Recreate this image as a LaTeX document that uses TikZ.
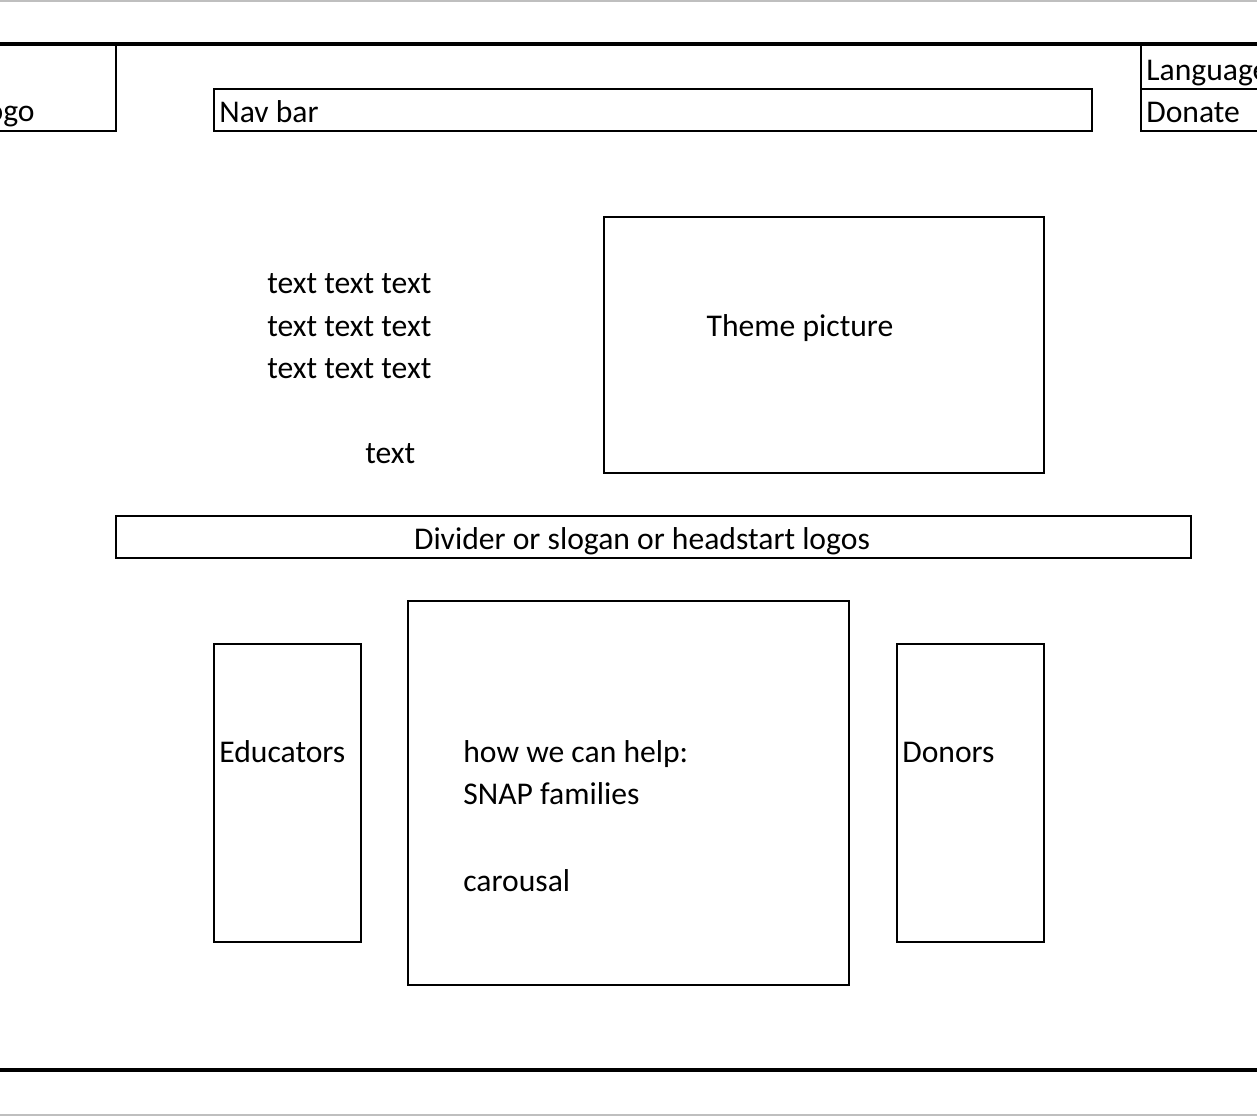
\documentclass[tikz,border=0pt]{standalone}
\usepackage{fontspec}
\setmainfont{Carlito}
\usetikzlibrary{positioning}

\begin{document}
\begin{tikzpicture}
[
x=0.02cm, y=-0.02cm,
font=\fontsize{18}{20}\selectfont,
box/.style={rectangle, draw=black, line width=1.2pt, inner sep=0pt, anchor=north west},
lbl/.style={inner sep=0pt, anchor=base west},
rule/.style={draw=black, line width=2.4pt},
edge/.style={draw=black!25, line width=0.6pt},
]
\useasboundingbox (0,0) rectangle (1257,1117);
\clip (0,0) rectangle (1257,1117);

% page edges and header / footer rules
\coordinate (topL) at (0,1);
\coordinate (topR) at (1257,1);
\coordinate (botL) at (0,1115);
\coordinate (botR) at (1257,1115);
\draw [edge] (topL) -- (topR);
\draw [edge] (botL) -- (botR);
\coordinate (headL) at (0,44);
\coordinate (headR) at (1257,44);
\coordinate (footL) at (0,1070);
\coordinate (footR) at (1257,1070);

% header
\node [box, minimum width=5.4cm, minimum height=1.72cm] (logo) at (-155,44) {};
\node [lbl, anchor=base east] (logotxt) at (35,121) {Logo};
\node [box, minimum width=17.56cm, minimum height=0.84cm] (navbar) at (213,88) {};
\node [lbl] (navtxt) at (219,122) {Nav bar};
\node [box, minimum width=4cm, minimum height=0.88cm] (lang) at (1140,44) {};
\node [box, minimum width=4cm, minimum height=0.84cm] (donate) at (1140,88) {};
\node [lbl] (langtxt) at (1146,80) {Language};
\node [lbl] (donatetxt) at (1146,122) {Donate};

% hero
\node [lbl] (text1) at (267,293) {text text text};
\node [lbl] (text2) at (267,336) {text text text};
\node [lbl] (text3) at (267,378) {text text text};
\node [lbl] (text4) at (365,463) {text};
\node [box, minimum width=8.8cm, minimum height=5.12cm] (theme) at (603,216) {};
\node [lbl, anchor=base] (themetxt) at (800,336) {Theme picture};

% divider
\node [box, minimum width=21.5cm, minimum height=0.84cm] (divider) at (115,515) {};
\node [lbl, anchor=base] (dividertxt) at (642,549) {Divider or slogan or headstart logos};

% bottom cards
\node [box, minimum width=2.94cm, minimum height=5.96cm] (educators) at (213,643) {};
\node [lbl] (edutxt) at (219,762) {Educators};
\node [box, minimum width=8.82cm, minimum height=7.68cm] (carousel) at (407,600) {};
\node [lbl] (helptxt) at (463,762) {how we can help:};
\node [lbl] (snaptxt) at (463,804) {SNAP families};
\node [lbl] (carotxt) at (463,891) {carousal};
\node [box, minimum width=2.94cm, minimum height=5.96cm] (donors) at (896,643) {};
\node [lbl] (donortxt) at (902,762) {Donors};

\draw [rule] (headL) -- (headR);
\draw [rule] (footL) -- (footR);
\end{tikzpicture}
\end{document}
